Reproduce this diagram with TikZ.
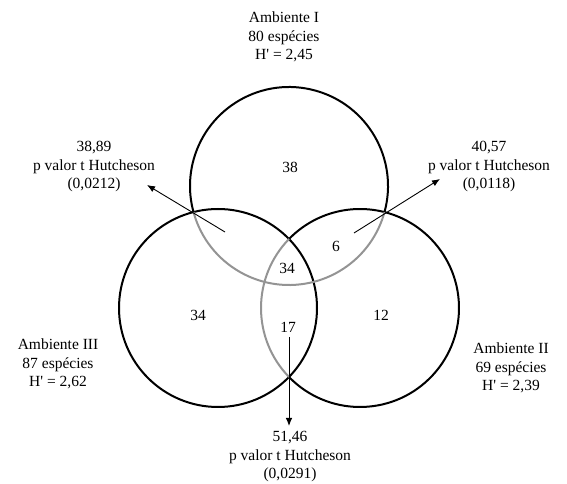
\documentclass[tikz,border=0pt]{standalone}
\usepackage{fontspec}
\setmainfont{Liberation Serif}[Ligatures=TeXOff]
\usetikzlibrary{arrows.meta}
\begin{document}
\begin{tikzpicture}[x=1pt,y=1pt,
  ring/.style={circle,minimum size=198pt,inner sep=0pt},
  blackarc/.style={draw=black,line width=2pt},
  grayarc/.style={draw=black!42,line width=2pt},
  lbl/.style={align=center,inner sep=0pt,font=\fontsize{15.5}{18.5}\selectfont},
  num/.style={inner sep=0pt,font=\fontsize{15.5}{18.5}\selectfont},
  ptr/.style={line width=0.9pt,-{Latex[length=8pt,width=6.5pt]}}]
\useasboundingbox (0,0) rectangle (567,484);
% circles
\node[ring] (cI) at (289,298) {};
\node[ring] (cIII) at (218,176) {};
\node[ring] (cII) at (360,176) {};
% black parts
\draw[blackarc] (cIII.center) circle[radius=99];
\draw[blackarc] ([shift={(344.7:99)}]cI.center) arc[start angle=344.7,end angle=555.3,radius=99];
\draw[blackarc] ([shift={(224.2:99)}]cII.center) arc[start angle=224.2,end angle=495.8,radius=99];
% gray boundary arcs
\draw[grayarc] ([shift={(195.3:99)}]cI.center) arc[start angle=195.3,end angle=344.7,radius=99];
\draw[grayarc] ([shift={(135.8:99)}]cII.center) arc[start angle=135.8,end angle=224.2,radius=99];
% region numbers
\node[num] (n38) at (290,317) {38};
\node[num] (n6) at (336,238) {6};
\node[num] (n34c) at (287,216) {34};
\node[num] (n34) at (198,169) {34};
\node[num] (n12) at (381,169) {12};
\node[num] (n17) at (288,157) {17};
% labels
\node[lbl] (amb1) at (284,447) {Ambiente I\\80 espécies\\H' = 2,45};
\node[lbl] (amb3) at (58,120) {Ambiente III\\87 espécies\\H' = 2,62};
\node[lbl] (amb2) at (511,116) {Ambiente II\\69 espécies\\H' = 2,39};
\node[lbl] (p13) at (94,317) {38,89\\p valor t Hutcheson\\(0,0212)};
\node[lbl] (p12) at (489,317) {40,57\\p valor t Hutcheson\\(0,0118)};
\node[lbl] (p23) at (290,27) {51,46\\p valor t Hutcheson\\(0,0291)};
% arrows
\coordinate (a1s) at (225,252);
\coordinate (a1e) at (147,299);
\coordinate (a2s) at (354,251);
\coordinate (a2e) at (440,305);
\coordinate (a3s) at (289,147);
\coordinate (a3e) at (289,58);
\draw[ptr] (a1s) -- (a1e);
\draw[ptr] (a2s) -- (a2e);
\draw[ptr] (a3s) -- (a3e);
\end{tikzpicture}
\end{document}
